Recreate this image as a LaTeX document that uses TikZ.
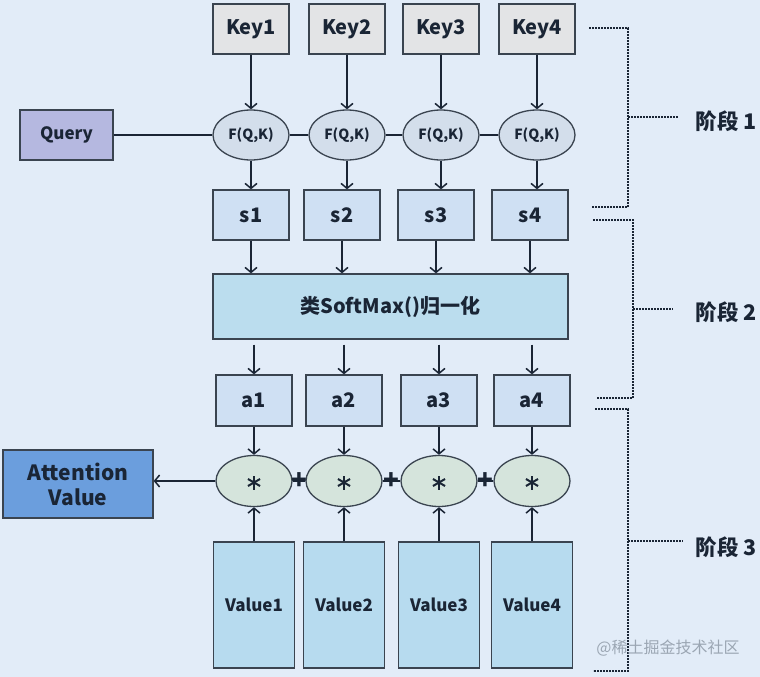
\documentclass[tikz,border=0pt]{standalone}
\usepackage{fontspec}
\setmainfont{Noto Sans CJK SC}
\usetikzlibrary{arrows.meta,shapes.geometric}
\definecolor{bg}{HTML}{E2ECF8}
\definecolor{edge}{HTML}{3A4450}
\definecolor{txt}{HTML}{1A2535}
\definecolor{keyfill}{HTML}{E3E4E6}
\definecolor{fqkfill}{HTML}{D3DEEB}
\definecolor{queryfill}{HTML}{B5B8E0}
\definecolor{sfill}{HTML}{CFE0F3}
\definecolor{smfill}{HTML}{BBDDEE}
\definecolor{starfill}{HTML}{D5E4DC}
\definecolor{attfill}{HTML}{6B9EDD}
\definecolor{valfill}{HTML}{B7DBEF}
\definecolor{wm}{HTML}{9BA6B3}
\tikzset{
  base/.style={draw=edge, line width=1.3, inner sep=0, text=txt, font=\bfseries\fontsize{20}{22}\selectfont},
  keybox/.style={base, rectangle, fill=keyfill, minimum width=76, minimum height=50},
  fqk/.style={base, ellipse, fill=fqkfill, minimum width=76, minimum height=50, font=\bfseries\fontsize{14}{16}\selectfont},
  sbox/.style={base, rectangle, fill=sfill, minimum width=76, minimum height=50},
  star/.style={base, ellipse, fill=starfill, minimum width=76, minimum height=51},
  valbox/.style={base, rectangle, fill=valfill, minimum width=81, minimum height=126, font=\bfseries\fontsize{17}{19}\selectfont},
  arr/.style={draw=txt, line width=1.5, -{Straight Barb[length=5,width=12,line width=1.5]}},
  conn/.style={draw=txt, line width=1.5},
  plus/.style={inner sep=0, text=txt, font=\bfseries\fontsize{26}{26}\selectfont},
  asterisk/.style={draw=txt, line width=2},
  bracket/.style={draw=txt, line width=2.2, dash pattern=on 1.6 off 1.4},
  stage/.style={inner sep=0, text=txt, font=\bfseries\fontsize{21.5}{23}\selectfont},
}
\begin{document}
\begin{tikzpicture}[x=1pt,y=-1pt]
\fill[bg] (0,0) rectangle (760,677);
\useasboundingbox (0,0) rectangle (760,677);

% keys
\node[keybox] (k1) at (251,29) {Key1};
\node[keybox] (k2) at (347,29) {Key2};
\node[keybox] (k3) at (441,29) {Key3};
\node[keybox] (k4) at (537,29) {Key4};

% F(Q,K)
\node[fqk] (f1) at (251,135) {F(Q,K)};
\node[fqk] (f2) at (347,135) {F(Q,K)};
\node[fqk] (f3) at (441,135) {F(Q,K)};
\node[fqk] (f4) at (537,135) {F(Q,K)};

\node[base, fill=queryfill, minimum width=93, minimum height=50, font=\bfseries\fontsize{17}{19}\selectfont] (q) at (66.5,135) {Query};

% s
\node[sbox] (s1) at (251,215) {s1};
\node[sbox] (s2) at (342,215) {s2};
\node[sbox] (s3) at (436,215) {s3};
\node[sbox] (s4) at (530,215) {s4};

% softmax
\node[base, fill=smfill, minimum width=355, minimum height=65] (sm) at (390.5,306.5) {类SoftMax()归一化};

% a
\node[sbox, minimum height=51] (a1) at (254,400.5) {a1};
\node[sbox, minimum height=51] (a2) at (344,400.5) {a2};
\node[sbox, minimum height=51] (a3) at (439,400.5) {a3};
\node[sbox, minimum height=51] (a4) at (532,400.5) {a4};

% star
\node[star] (m1) at (254,481) {};
\node[star] (m2) at (344,481) {};
\node[star] (m3) at (439,481) {};
\node[star] (m4) at (532,481) {};
\foreach \i in {1,...,4}{
  \coordinate (c\i) at ([yshift=-1.5]m\i.center);
  \draw[asterisk] ([shift={(90:7)}]c\i) -- ([shift={(270:7)}]c\i);
  \draw[asterisk] ([shift={(30:7)}]c\i) -- ([shift={(210:7)}]c\i);
  \draw[asterisk] ([shift={(150:7)}]c\i) -- ([shift={(330:7)}]c\i);
}

% attention value
\node[base, fill=attfill, minimum width=150, minimum height=68, align=center, font=\bfseries\fontsize{21}{25}\selectfont] (att) at (78,484) {Attention\\Value};

% values
\node[valbox] (v1) at (254,605) {Value1};
\node[valbox] (v2) at (344,605) {Value2};
\node[valbox] (v3) at (439,605) {Value3};
\node[valbox] (v4) at (532,605) {Value4};

% connectors
\foreach \i in {1,...,4}{
  \draw[arr] (k\i.south) -- (f\i.north);
  \draw[arr] (f\i.south) -- (f\i.south |- s\i.north);
  \draw[arr] (s\i.south) -- (s\i.south |- sm.north);
  \draw[arr, shorten <=5] (a\i.north |- sm.south) -- (a\i.north);
  \draw[arr] (a\i.south) -- (a\i.south |- m\i.north);
  \draw[arr] (v\i.north) -- (v\i.north |- m\i.south);
}
\draw[conn] (q.east) -- (f1.west);
\draw[conn] (f1.east) -- (f2.west);
\draw[conn] (f2.east) -- (f3.west);
\draw[conn] (f3.east) -- (f4.west);

\draw[conn] (m1.east) -- node[plus] {+} (m2.west);
\draw[conn] (m2.east) -- node[plus] {+} (m3.west);
\draw[conn] (m3.east) -- node[plus] {+} (m4.west);
\draw[arr] (m1.west) -- (m1.west -| att.east);

% stages
\node[stage] (st1) at (726,121) {阶段 1};
\node[stage] (st2) at (726,312) {阶段 2};
\node[stage] (st3) at (726,547) {阶段 3};

\draw[bracket] (589,28) -- (628,28) -- (628,207) -- (592,207);
\draw[bracket] (628,117) -- (678,117);
\draw[bracket] (593,220) -- (633,220) -- (633,398) -- (597,398);
\draw[bracket] (633,309) -- (673,309);
\draw[bracket] (595,409) -- (628,409) -- (628,671) -- (593,671);
\draw[bracket] (628,541) -- (683,541);

% watermark
\node[inner sep=0, text=wm, font=\fontsize{16}{18}\selectfont] (wmk) at (668,648) {@稀土掘金技术社区};
\end{tikzpicture}
\end{document}
